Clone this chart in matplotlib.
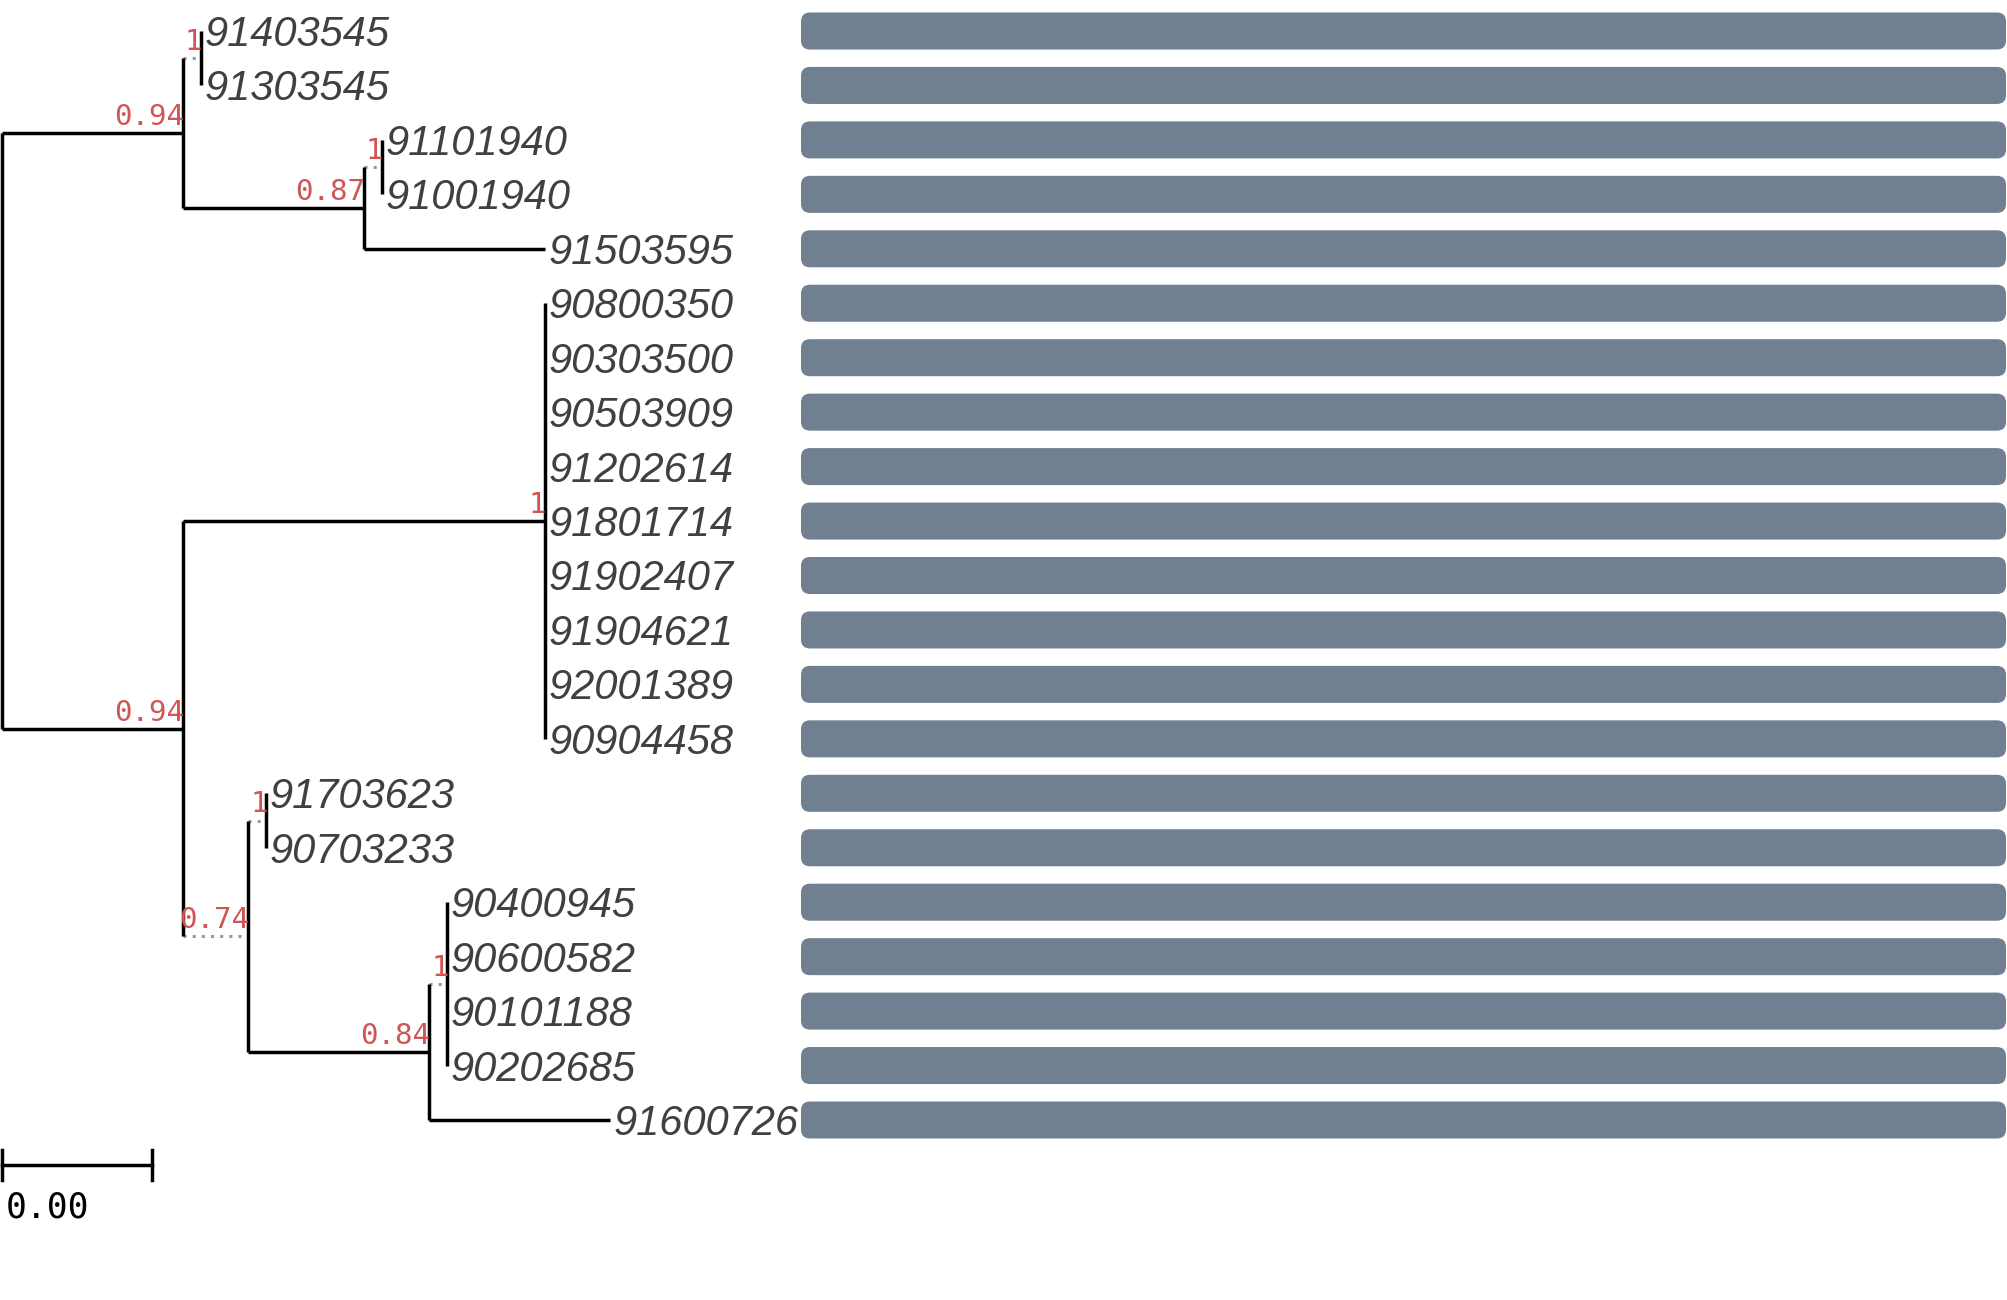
import matplotlib.pyplot as plt
from matplotlib.patches import FancyBboxPatch

# leaves, top to bottom
leaves = ['91403545', '91303545', '91101940', '91001940', '91503595',
          '90800350', '90303500', '90503909', '91202614', '91801714',
          '91902407', '91904621', '92001389', '90904458',
          '91703623', '90703233',
          '90400945', '90600582', '90101188', '90202685', '91600726']
leaf_parent = ['A1', 'A1', 'A3', 'A3', 'A2',
               'C1', 'C1', 'C1', 'C1', 'C1', 'C1', 'C1', 'C1', 'C1',
               'D1', 'D1',
               'E1', 'E1', 'E1', 'E1', 'E']
leaf_blen = [0, 0, 0, 0, 1.0,
             0, 0, 0, 0, 0, 0, 0, 0, 0,
             0, 0,
             0, 0, 0, 0, 1.0]

# internal nodes (parents listed before children)
nodes = ['root', 'A', 'A1', 'A2', 'A3', 'C', 'C1', 'D', 'D1', 'E', 'E1']
node_parent = [None, 'root', 'A', 'A', 'A2', 'root', 'C', 'C', 'D', 'D', 'E']
node_blen = [0, 1.0, 0.1, 1.0, 0.1, 1.0, 2.0, 0.36, 0.1, 1.0, 0.1]
node_support = [None, 0.94, 1, 0.87, 1, 0.94, 1, 0.74, 1, 0.84, 1]

bar_values = [1, 1, 1, 1, 1, 1, 1, 1, 1, 1, 1, 1, 1, 1, 1, 1, 1, 1, 1, 1, 1]
scale_len = 0.83
scale_text = '0.00'

# positions
xpos = {}
ypos = {}
for n, p, b in zip(nodes, node_parent, node_blen):
    xpos[n] = 0.0 if p is None else xpos[p] + b
for i, (lf, p, b) in enumerate(zip(leaves, leaf_parent, leaf_blen)):
    xpos[lf] = xpos[p] + b
    ypos[lf] = i

children = {n: [] for n in nodes}
for n, p in zip(nodes, node_parent):
    if p is not None:
        children[p].append(n)
for lf, p in zip(leaves, leaf_parent):
    children[p].append(lf)

for n in reversed(nodes):
    ys = [ypos[c] for c in children[n]]
    ypos[n] = (min(ys) + max(ys)) / 2

W, H = 2007, 1300
fig = plt.figure(figsize=(W / 100, H / 100), dpi=100)
ax = fig.add_axes([0, 0, 1, 1])
ax.axis('off')
unit = 181.0
row = 54.45
ax.set_xlim(-2 / unit, (W - 2) / unit)
ax.set_ylim((H - 31) / row, -31 / row)

lw = 2.5
parent_of = dict(zip(nodes, node_parent))
parent_of.update(zip(leaves, leaf_parent))
blen_of = dict(zip(nodes, node_blen))
blen_of.update(zip(leaves, leaf_blen))

for n, p in parent_of.items():
    if p is None or blen_of[n] <= 0:
        continue
    if blen_of[n] < 0.5:
        ax.plot([xpos[p], xpos[n]], [ypos[n], ypos[n]], color='#999999',
                lw=2.2, ls=(0, (1, 2.0)), solid_capstyle='butt')
    else:
        ax.plot([xpos[p], xpos[n]], [ypos[n], ypos[n]], color='black',
                lw=lw, solid_capstyle='butt')

for n in nodes:
    ys = [ypos[c] for c in children[n]]
    ax.plot([xpos[n], xpos[n]], [min(ys), max(ys)], color='black', lw=lw,
            solid_capstyle='butt')

for n, s in zip(nodes, node_support):
    if s is None:
        continue
    ax.annotate(f'{s:g}', (xpos[n], ypos[n]), xytext=(1, 1.5),
                textcoords='offset points', ha='right', va='bottom',
                fontsize=21, color='#d05555', family='DejaVu Sans Mono')

for lf in leaves:
    ax.text(xpos[lf] + 0.02, ypos[lf] + 0.275, lf, ha='left', va='baseline',
            fontsize=30, style='italic', color='#404040',
            family='Liberation Sans')

# scale bar
sb_y = 20.83
ax.plot([0, scale_len], [sb_y, sb_y], color='black', lw=lw)
for sx in (0, scale_len):
    ax.plot([sx, sx], [sb_y - 0.28, sb_y + 0.28], color='black', lw=lw)
ax.text(0.02, 21.6, scale_text, ha='left', va='center', fontsize=25,
        color='black', family='DejaVu Sans Mono')

# bar panel
bx0, bx1 = 801, 2006
bax = fig.add_axes([bx0 / W, 0, (bx1 - bx0) / W, 1])
bax.axis('off')
bax.set_xlim(0, 1)
bax.set_ylim((H - 31) / row, -31 / row)
bh = 0.68
r = 9 / (bx1 - bx0)
asp = (bx1 - bx0) / row
for i, v in enumerate(bar_values):
    bax.add_patch(FancyBboxPatch((0, i - bh / 2), v, bh,
                                 boxstyle=f'round,pad=0,rounding_size={r}',
                                 mutation_aspect=asp, facecolor='#708090',
                                 edgecolor='none'))

fig.savefig('out.png', dpi=100)
